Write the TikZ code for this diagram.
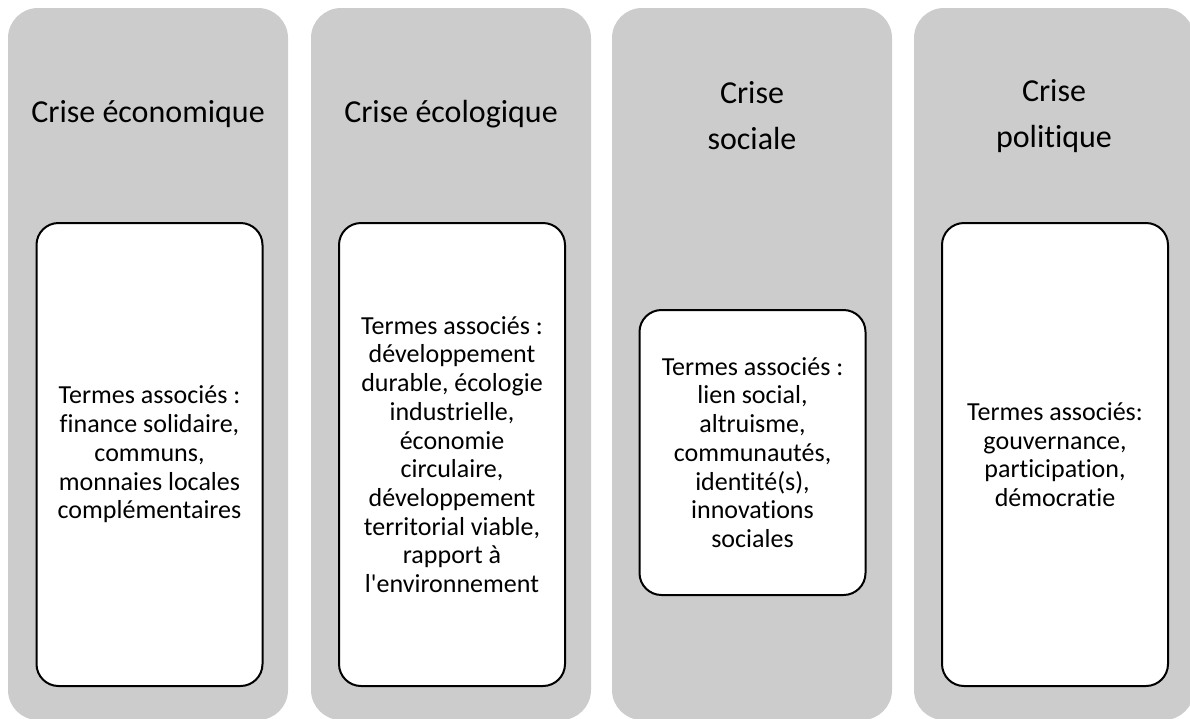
\documentclass[tikz,border=0pt]{standalone}
\usepackage{fontspec}
\setmainfont{Carlito}[Ligatures={CommonOff,TeXOff}]
\usepackage{tikz}
\usetikzlibrary{positioning}
\definecolor{colgray}{RGB}{204,204,204}
\tikzset{
    %Define style for the grey columns
    column/.style={
           rectangle,
           rounded corners=30pt,
           fill=colgray,
           draw=none,
           inner sep=0pt,
           minimum width=280pt,
           minimum height=712pt},
    %Define style for the white boxes
    termbox/.style={
           rectangle,
           rounded corners=22pt,
           draw=black, line width=2pt,
           fill=white,
           inner sep=0pt,
           minimum width=226pt},
    %Define style for the titles
    title/.style={
           align=center,
           font=\fontsize{32}{46}\selectfont},
    %Define style for the texts in the boxes
    terms/.style={
           align=center,
           font=\fontsize{26}{28.7}\selectfont}
}
\begin{document}
\begin{tikzpicture}[x=1pt,y=-1pt]
\useasboundingbox (0,0) rectangle (1190,718);
 %columns
\node[column] (eco) at (148,364) {};
\node[column] (ecol) at (451,364) {};
\node[column] (soc) at (752,364) {};
\node[column] (pol) at (1054,364) {};
 %titles
\node[title] (ecotitle) at (148,114) {Crise économique};
\node[title] (ecoltitle) at (451,114) {Crise écologique};
\node[title] (soctitle) at (752,116) {Crise\\sociale};
\node[title] (poltitle) at (1054,116) {Crise\\politique};
 %boxes
\node[termbox, minimum height=463pt] (ecobox) at (149.5,454.5) {};
\node[termbox, minimum height=463pt] (ecolbox) at (452,454.5) {};
\node[termbox, minimum height=285pt] (socbox) at (752.5,452.5) {};
\node[termbox, minimum height=463pt] (polbox) at (1055,454.5) {};
 %terms
\node[terms] (ecoterms) at (ecobox.center)
    {Termes associés :\\finance solidaire,\\communs,\\monnaies locales\\complémentaires};
\node[terms] (ecolterms) at (ecolbox.center)
    {Termes associés :\\développement\\durable, écologie\\industrielle,\\économie\\circulaire,\\développement\\territorial viable,\\rapport à\\l'environnement};
\node[terms] (socterms) at (socbox.center)
    {Termes associés :\\lien social,\\altruisme,\\communautés,\\identité(s),\\innovations\\sociales};
\node[terms] (polterms) at (polbox.center)
    {Termes associés:\\gouvernance,\\participation,\\démocratie};
\end{tikzpicture}
\end{document}
